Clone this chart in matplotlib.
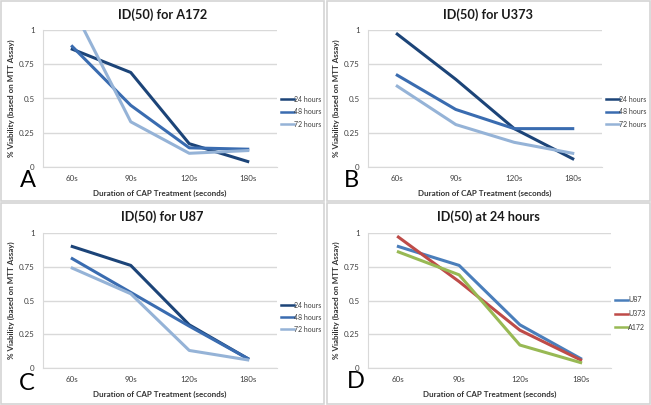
import matplotlib

matplotlib.use("Agg")

import matplotlib.pyplot as plt
from matplotlib.patches import Rectangle

plt.rcParams["font.family"] = ["Lato", "DejaVu Sans"]

# data
durations = ["60s", "90s", "120s", "180s"]
hour_labels = ["24 hours", "48 hours", "72 hours"]

a172_24 = [0.86, 0.69, 0.17, 0.04]
a172_48 = [0.88, 0.45, 0.14, 0.13]
a172_72 = [1.17, 0.33, 0.10, 0.12]

u373_24 = [0.97, 0.64, 0.28, 0.06]
u373_48 = [0.67, 0.42, 0.28, 0.28]
u373_72 = [0.59, 0.31, 0.18, 0.10]

u87_24 = [0.90, 0.76, 0.32, 0.07]
u87_48 = [0.81, 0.56, 0.31, 0.07]
u87_72 = [0.74, 0.55, 0.13, 0.06]

cell_lines = ["U87", "U373", "A172"]

yticks = [0, 0.25, 0.5, 0.75, 1]
ytick_labels = ["0", "0.25", "0.5", "0.75", "1"]

hour_colors = ["#1c4478", "#3a6cb0", "#95b3d7"]
line_colors = ["#4a7ebb", "#be4b48", "#98b954"]

W, H = 651, 405
fig = plt.figure(figsize=(W / 100, H / 100), dpi=100)


def px_axes(left, top, right, bottom):
    return fig.add_axes([left / W, 1 - bottom / H, (right - left) / W, (bottom - top) / H])


def draw_panel(box, area, title, series, labels, colors, letter, letter_pos, legend_y, spacing):
    # panel border
    x0, y0, x1, y1 = box
    fig.patches.append(Rectangle((x0 / W, 1 - y1 / H), (x1 - x0) / W, (y1 - y0) / H,
                                 transform=fig.transFigure, fill=False,
                                 edgecolor="#d4d4d4", linewidth=1.2))

    left, top, right, bottom = area
    ax = px_axes(left, top, right, bottom)
    x = list(range(len(durations)))
    for values, label, color in zip(series, labels, colors):
        ax.plot(x, values, color=color, linewidth=2.2, label=label)

    ax.set_xlim(-0.5, 3.5)
    ax.set_ylim(0, 1)
    ax.set_xticks(x)
    ax.set_xticklabels(durations, fontsize=5.8, color="#404040")
    ax.set_yticks(yticks)
    ax.set_yticklabels(ytick_labels, fontsize=5.8, color="#404040")
    ax.tick_params(length=0, pad=6)
    ax.grid(axis="y", color="#d9d9d9", linewidth=1)
    ax.set_axisbelow(True)
    for side in ["top", "right"]:
        ax.spines[side].set_visible(False)
    for side in ["left", "bottom"]:
        ax.spines[side].set_color("#d9d9d9")

    ax.set_xlabel("Duration of CAP Treatment (seconds)", fontsize=5.8,
                  fontweight="bold", color="#333333", labelpad=5)
    ax.set_ylabel("% Viability (based on MTT Assay)", fontsize=5.8,
                  fontweight="bold", color="#333333", labelpad=3)

    fig.text((x0 + x1) / 2 / W, 1 - (y0 + 14) / H, title, fontsize=9.2,
             fontweight="bold", color="#1a1a1a", ha="center", va="center")

    for i, (label, color) in enumerate(zip(labels, colors)):
        ly = 1 - (legend_y + i * spacing) / H
        lx = right + 4
        fig.lines.append(plt.Line2D([lx / W, (lx + 13) / W], [ly, ly], color=color,
                                    linewidth=1.8, transform=fig.transFigure))
        fig.text((lx + 13) / W, ly, label, fontsize=5, color="#404040",
                 ha="left", va="center")

    fig.text(letter_pos[0] / W, 1 - letter_pos[1] / H, letter, fontsize=17,
             color="black", ha="center", va="center")


draw_panel((1, 1, 324, 201), (43, 30, 277, 167), "ID(50) for A172",
           [a172_24, a172_48, a172_72], hour_labels, hour_colors,
           "A", (28, 181), 99, 12.5)
draw_panel((327, 1, 650, 201), (368, 30, 602, 167), "ID(50) for U373",
           [u373_24, u373_48, u373_72], hour_labels, hour_colors,
           "B", (351, 181), 99, 12.5)
draw_panel((1, 203, 324, 404), (43, 233, 277, 368), "ID(50) for U87",
           [u87_24, u87_48, u87_72], hour_labels, hour_colors,
           "C", (27, 384), 305, 12)
draw_panel((327, 203, 650, 404), (368, 233, 611, 368), "ID(50) at 24 hours",
           [u87_24, u373_24, a172_24], cell_lines, line_colors,
           "D", (356, 382), 300, 13.5)

fig.savefig("out.png", dpi=100)
